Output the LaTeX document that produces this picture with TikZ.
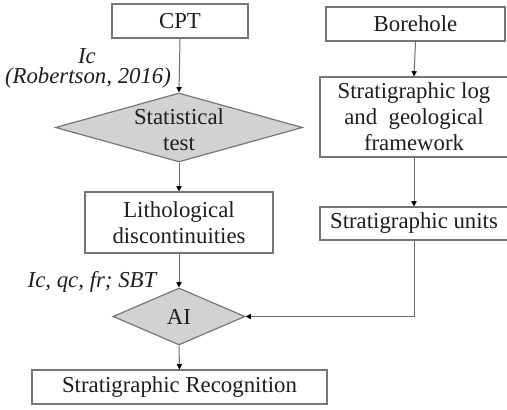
\documentclass[tikz,border=0pt]{standalone}
\usepackage{fontspec}
\setmainfont{Liberation Serif}
\usetikzlibrary{shapes.geometric,arrows.meta}
\definecolor{edgegray}{HTML}{767676}
\definecolor{linegray}{HTML}{6A6A6A}
\definecolor{diafill}{HTML}{D2D2D2}
\definecolor{inkc}{HTML}{1E1E1E}
\begin{document}
\begin{tikzpicture}[x=0.5pt,y=-0.5pt,
  txt/.style={font=\fontsize{11.4}{13}\selectfont, text=inkc, align=center},
  box/.style={draw=edgegray, line width=0.6pt, fill=white, inner sep=0pt},
  decision/.style={diamond, draw=edgegray, line width=0.6pt, fill=diafill, inner sep=0pt},
  flow/.style={draw=linegray, line width=0.5pt,
    -{Triangle[length=2.6pt,width=2.6pt,fill=black,color=black]}},
  lbl/.style={txt, font=\fontsize{11.4}{13}\selectfont\itshape, inner sep=0pt}]
\useasboundingbox (0,0) rectangle (507,410);

% left column
\node[box, minimum width=68pt, minimum height=17pt] (cpt) at (180,21) {};
\node[txt] (cpttxt) at (cpt) {CPT};
\node[decision, minimum width=123.5pt, minimum height=34.5pt] (stat) at (179,127.5) {};
\node[txt] (stattxt) at (179,130) {Statistical\\test};
\node[box, minimum width=94pt, minimum height=30.5pt] (litho) at (179,222.5) {};
\node[txt] (lithotxt) at (litho) {Lithological\\discontinuities};
\node[decision, minimum width=66pt, minimum height=28.5pt] (ai) at (179,316.5) {};
\node[txt] (aitxt) at (ai) {AI};
\node[box, minimum width=147.5pt, minimum height=17pt] (recog) at (179.5,387) {};
\node[txt] (recogtxt) at (recog) {Stratigraphic Recognition};

% right column
\node[box, minimum width=89.5pt, minimum height=17pt] (bore) at (415.5,24) {};
\node[txt] (boretxt) at (bore) {Borehole};
\node[box, minimum width=94pt, minimum height=40pt] (slog) at (414,117) {};
\node[txt] (slogtxt) at (slog) {Stratigraphic log\\and~ geological\\framework};
\node[box, minimum width=94pt, minimum height=16.5pt] (units) at (414,223.5) {};
\node[txt] (unitstxt) at (units) {Stratigraphic units};

% input labels
\node[lbl] (ic) at (87,56) {Ic};
\node[lbl] (ref) at (88,78) {(Robertson, 2016)};
\node[lbl] (params) at (92,282) {Ic, qc, fr; SBT};

% connectors
\draw[flow] (cpt.south) -- (stat.north);
\draw[flow] (stat.south) -- (litho.north);
\draw[flow] (litho.south) -- (ai.north);
\draw[flow] (ai.south) -- (recog.north);
\draw[flow] (bore.south) -- (slog.north);
\draw[flow] (slog.south) -- (units.north);
\draw[flow] (units.south) |- (ai.east);
\end{tikzpicture}
\end{document}
